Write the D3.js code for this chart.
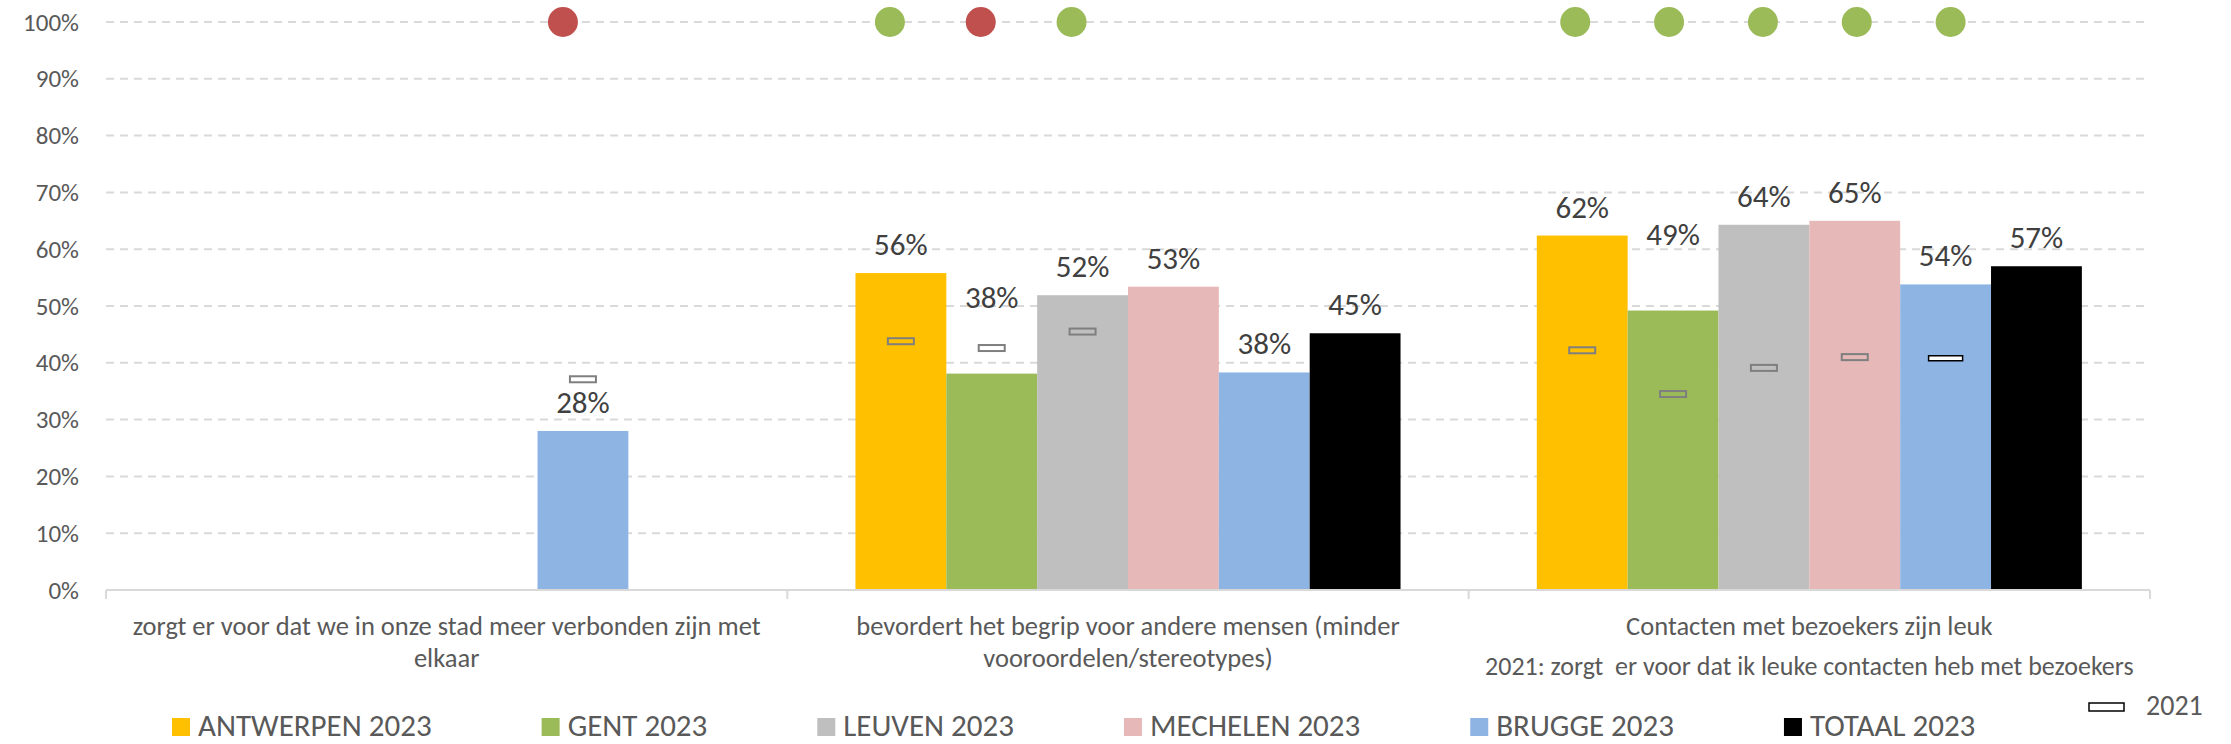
<!DOCTYPE html>
<html>
<head>
<meta charset="utf-8">
<script src="https://cdn.jsdelivr.net/npm/d3@7"></script>
<style>
  html, body { margin: 0; padding: 0; background: #ffffff; }
  svg { display: block; font-family: Carlito, Calibri, Lato, "Noto Sans", sans-serif; }
</style>
</head>
<body>
<svg id="chart" width="2231" height="744"></svg>
<script>
// ---------- data ----------
const categories = [
  "zorgt er voor dat we in onze stad meer verbonden zijn met elkaar",
  "bevordert het begrip voor andere mensen (minder vooroordelen/stereotypes)",
  "Contacten met bezoekers zijn leuk"
];
const series = ["ANTWERPEN 2023", "GENT 2023", "LEUVEN 2023", "MECHELEN 2023", "BRUGGE 2023", "TOTAAL 2023"];
const seriesColors = ["#FFC000", "#9BBB59", "#BFBFBF", "#E6B9B8", "#8EB4E3", "#000000"];

// 2023 values (%), per series, per category
const antwerpen2023 = [null, 55.8, 62.4];
const gent2023      = [null, 38.1, 49.2];
const leuven2023    = [null, 51.9, 64.3];
const mechelen2023  = [null, 53.4, 65.0];
const brugge2023    = [28.0, 38.3, 53.8];
const totaal2023    = [null, 45.2, 57.0];

// 2021 values (%), per series, per category
const antwerpen2021 = [null, 43.8, 42.2];
const gent2021      = [null, 42.6, 34.5];
const leuven2021    = [null, 45.5, 39.1];
const mechelen2021  = [null, null, 41.0];
const brugge2021    = [37.1, null, 40.8];
const totaal2021    = [null, null, null];

// significance of change vs 2021 (drawn at 100%)
const antwerpenSig = [null, "up", "up"];
const gentSig      = [null, "down", "up"];
const leuvenSig    = [null, "up", "up"];
const mechelenSig  = [null, null, "up"];
const bruggeSig    = ["down", null, "up"];
const totaalSig    = [null, null, null];

const yTicks = [0, 10, 20, 30, 40, 50, 60, 70, 80, 90, 100];
const note2021 = "2021: zorgt  er voor dat ik leuke contacten heb met bezoekers";
const legend2021 = "2021";

const values2023 = [antwerpen2023, gent2023, leuven2023, mechelen2023, brugge2023, totaal2023];
const values2021 = [antwerpen2021, gent2021, leuven2021, mechelen2021, brugge2021, totaal2021];
const sigs = [antwerpenSig, gentSig, leuvenSig, mechelenSig, bruggeSig, totaalSig];

// ---------- layout ----------
const plot = { left: 106, right: 2150, top: 22, bottom: 590 };
const FONT_TICK = 25, FONT_LABEL = 31, FONT_CAT = 26.5, FONT_NOTE = 26, FONT_LEGEND = 31;
const labelRaise = { "GENT 2023": 66 };
const defaultRaise = 18;
const dotShift = [-20, -11, -7];   // px shift of significance dots per category
const dotSpread = [0, 0, 3];       // extra px per series index per category

const svg = d3.select("#chart");

const x0 = d3.scaleBand().domain(categories).range([plot.left, plot.right]).padding(0);
const x1 = d3.scaleBand().domain(series).range([0, x0.bandwidth()]).paddingInner(0).paddingOuter(0.75);
const y = d3.scaleLinear().domain([0, 100]).range([plot.bottom, plot.top]);
const color = d3.scaleOrdinal().domain(series).range(seriesColors);

// gridlines
svg.append("g")
  .selectAll("line")
  .data(yTicks.filter(t => t > 0))
  .join("line")
  .attr("x1", plot.left).attr("x2", plot.right)
  .attr("y1", d => y(d)).attr("y2", d => y(d))
  .attr("stroke", "#D9D9D9").attr("stroke-width", 2)
  .attr("stroke-dasharray", "8,6");

// y axis labels (no line)
const yAxis = d3.axisLeft(y).tickValues(yTicks).tickFormat(d => d + "%").tickSize(0).tickPadding(27);
const gy = svg.append("g").attr("transform", `translate(${plot.left},0)`).call(yAxis);
gy.select(".domain").remove();
gy.selectAll("text").attr("font-size", FONT_TICK).attr("fill", "#595959")
  .style("font-family", "Carlito, Calibri, Lato, sans-serif");

// bars
const flat = [];
series.forEach((s, si) => categories.forEach((c, ci) => {
  flat.push({ s, si, c, ci, v: values2023[si][ci], v21: values2021[si][ci], sig: sigs[si][ci] });
}));

svg.append("g").selectAll("rect")
  .data(flat.filter(d => d.v != null))
  .join("rect")
  .attr("x", d => x0(d.c) + x1(d.s))
  .attr("width", x1.bandwidth())
  .attr("y", d => y(d.v))
  .attr("height", d => y(0) - y(d.v))
  .attr("fill", d => color(d.s));

// x axis line + ticks
const xAxis = d3.axisBottom(x0).tickSize(0).tickFormat("");
const gx = svg.append("g").attr("transform", `translate(0,${plot.bottom})`).call(xAxis);
gx.select(".domain").attr("stroke", "#D9D9D9").attr("stroke-width", 2)
  .attr("d", `M${plot.left},0H${plot.right}`);
const boundaries = categories.map(c => x0(c)).concat([x0(categories[categories.length - 1]) + x0.bandwidth()]);
gx.selectAll(".bound").data(boundaries).join("line").attr("class", "bound")
  .attr("x1", d => d).attr("x2", d => d).attr("y1", 0).attr("y2", 9)
  .attr("stroke", "#D9D9D9").attr("stroke-width", 2);

// 2021 markers
const normalMarkers = flat.filter(d => d.v21 != null && !(d.s === "BRUGGE 2023" && d.ci === 2));
const specialMarkers = flat.filter(d => d.v21 != null && d.s === "BRUGGE 2023" && d.ci === 2);
svg.append("g").selectAll("rect")
  .data(normalMarkers)
  .join("rect")
  .attr("x", d => x0(d.c) + x1(d.s) + x1.bandwidth() / 2 - 13)
  .attr("y", d => y(d.v21) - 3)
  .attr("width", 26).attr("height", 6)
  .attr("fill", "none").attr("stroke", "#7F7F7F").attr("stroke-width", 2);
svg.append("g").selectAll("rect")
  .data(specialMarkers)
  .join("rect")
  .attr("x", d => x0(d.c) + x1(d.s) + x1.bandwidth() / 2 - 17)
  .attr("y", d => y(d.v21) - 2.5)
  .attr("width", 34).attr("height", 5)
  .attr("fill", "#ffffff").attr("stroke", "#000000").attr("stroke-width", 1.5);

// significance dots
svg.append("g").selectAll("circle")
  .data(flat.filter(d => d.sig != null))
  .join("circle")
  .attr("cx", d => x0(d.c) + x1(d.s) + x1.bandwidth() / 2 + dotShift[d.ci] + dotSpread[d.ci] * d.si)
  .attr("cy", y(100))
  .attr("r", 15)
  .attr("fill", d => d.sig === "up" ? "#9BBB59" : "#C0504D");

// data labels
svg.append("g").selectAll("text")
  .data(flat.filter(d => d.v != null))
  .join("text")
  .attr("x", d => x0(d.c) + x1(d.s) + x1.bandwidth() / 2)
  .attr("y", d => y(d.v) - (labelRaise[d.s] || defaultRaise))
  .attr("text-anchor", "middle")
  .attr("font-size", FONT_LABEL)
  .attr("fill", "#404040")
  .text(d => Math.round(d.v) + "%");

// category labels with wrapping
const catG = svg.append("g");
categories.forEach(c => {
  const cx = x0(c) + x0.bandwidth() / 2;
  const words = c.split(" ");
  const t = catG.append("text").attr("text-anchor", "middle").attr("font-size", FONT_CAT).attr("fill", "#595959");
  let line = [], lines = [];
  const probe = t.append("tspan");
  words.forEach(w => {
    const test = line.concat([w]).join(" ");
    probe.text(test);
    if (probe.node().getComputedTextLength() > 660 && line.length) {
      lines.push(line.join(" "));
      line = [w];
    } else line.push(w);
  });
  lines.push(line.join(" "));
  probe.remove();
  lines.forEach((l, i) => {
    t.append("tspan").attr("x", cx).attr("y", 635 + i * 32).text(l);
  });
});

// note under third category
svg.append("text")
  .attr("x", x0(categories[2]) + x0.bandwidth() / 2)
  .attr("y", 675)
  .attr("text-anchor", "middle")
  .attr("font-size", FONT_NOTE)
  .attr("fill", "#595959")
  .style("white-space", "pre")
  .attr("xml:space", "preserve")
  .text(note2021);

// legend
const legG = svg.append("g");
let lx = 172;
series.forEach((s, i) => {
  legG.append("rect").attr("x", lx).attr("y", 718).attr("width", 18).attr("height", 18).attr("fill", color(s));
  const tx = legG.append("text").attr("x", lx + 26).attr("y", 736)
    .attr("font-size", FONT_LEGEND).attr("fill", "#595959").text(s);
  lx = lx + 26 + tx.node().getComputedTextLength() + 110;
});
legG.append("rect").attr("x", 2089).attr("y", 703).attr("width", 35).attr("height", 8)
  .attr("fill", "#ffffff").attr("stroke", "#000000").attr("stroke-width", 1.5);
legG.append("text").attr("x", 2146).attr("y", 715)
  .attr("font-size", 28).attr("fill", "#595959").text(legend2021);
</script>
</body>
</html>
